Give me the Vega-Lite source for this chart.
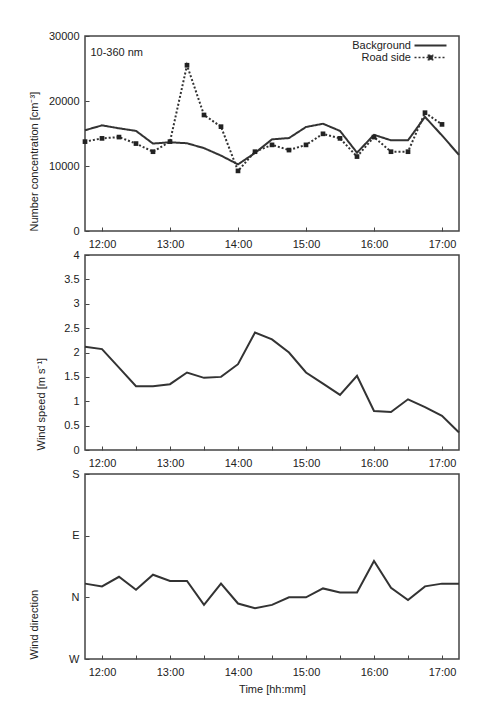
{
  "$schema": "https://vega.github.io/schema/vega-lite/v6.json",
  "background": "white",
  "padding": {"left": 27, "top": 29, "right": 23, "bottom": 12},
  "datasets": {
    "conc": [
      {"hour": 11.75, "series": "Background", "value": 15500},
      {"hour": 12.0, "series": "Background", "value": 16250},
      {"hour": 12.25, "series": "Background", "value": 15800},
      {"hour": 12.5, "series": "Background", "value": 15400},
      {"hour": 12.75, "series": "Background", "value": 13450},
      {"hour": 13.0, "series": "Background", "value": 13650},
      {"hour": 13.25, "series": "Background", "value": 13500},
      {"hour": 13.5, "series": "Background", "value": 12750},
      {"hour": 13.75, "series": "Background", "value": 11600},
      {"hour": 14.0, "series": "Background", "value": 10250},
      {"hour": 14.25, "series": "Background", "value": 12000},
      {"hour": 14.5, "series": "Background", "value": 14100},
      {"hour": 14.75, "series": "Background", "value": 14300},
      {"hour": 15.0, "series": "Background", "value": 16000},
      {"hour": 15.25, "series": "Background", "value": 16500},
      {"hour": 15.5, "series": "Background", "value": 15400},
      {"hour": 15.75, "series": "Background", "value": 12050},
      {"hour": 16.0, "series": "Background", "value": 14800},
      {"hour": 16.25, "series": "Background", "value": 13950},
      {"hour": 16.5, "series": "Background", "value": 13950},
      {"hour": 16.75, "series": "Background", "value": 17550},
      {"hour": 17.0, "series": "Background", "value": 14700},
      {"hour": 17.25, "series": "Background", "value": 11700},
      {"hour": 11.75, "series": "Road side", "value": 13750},
      {"hour": 12.0, "series": "Road side", "value": 14250},
      {"hour": 12.25, "series": "Road side", "value": 14450},
      {"hour": 12.5, "series": "Road side", "value": 13450},
      {"hour": 12.75, "series": "Road side", "value": 12200},
      {"hour": 13.0, "series": "Road side", "value": 13750},
      {"hour": 13.25, "series": "Road side", "value": 25500},
      {"hour": 13.5, "series": "Road side", "value": 17850},
      {"hour": 13.75, "series": "Road side", "value": 16050},
      {"hour": 14.0, "series": "Road side", "value": 9250},
      {"hour": 14.25, "series": "Road side", "value": 12200},
      {"hour": 14.5, "series": "Road side", "value": 13250},
      {"hour": 14.75, "series": "Road side", "value": 12450},
      {"hour": 15.0, "series": "Road side", "value": 13250},
      {"hour": 15.25, "series": "Road side", "value": 14950},
      {"hour": 15.5, "series": "Road side", "value": 14250},
      {"hour": 15.75, "series": "Road side", "value": 11450},
      {"hour": 16.0, "series": "Road side", "value": 14450},
      {"hour": 16.25, "series": "Road side", "value": 12200},
      {"hour": 16.5, "series": "Road side", "value": 12200},
      {"hour": 16.75, "series": "Road side", "value": 18200},
      {"hour": 17.0, "series": "Road side", "value": 16400}
    ],
    "wind": [
      {"hour": 11.75, "speed": 2.12, "direction": 20},
      {"hour": 12.0, "speed": 2.07, "direction": 16},
      {"hour": 12.25, "speed": 1.69, "direction": 30},
      {"hour": 12.5, "speed": 1.31, "direction": 11},
      {"hour": 12.75, "speed": 1.31, "direction": 33},
      {"hour": 13.0, "speed": 1.35, "direction": 24},
      {"hour": 13.25, "speed": 1.59, "direction": 24},
      {"hour": 13.5, "speed": 1.48, "direction": -11},
      {"hour": 13.75, "speed": 1.5, "direction": 20},
      {"hour": 14.0, "speed": 1.76, "direction": -9},
      {"hour": 14.25, "speed": 2.41, "direction": -16},
      {"hour": 14.5, "speed": 2.27, "direction": -11},
      {"hour": 14.75, "speed": 2.0, "direction": 0},
      {"hour": 15.0, "speed": 1.59, "direction": 0},
      {"hour": 15.25, "speed": 1.36, "direction": 13},
      {"hour": 15.5, "speed": 1.13, "direction": 7},
      {"hour": 15.75, "speed": 1.52, "direction": 7},
      {"hour": 16.0, "speed": 0.8, "direction": 53},
      {"hour": 16.25, "speed": 0.78, "direction": 14},
      {"hour": 16.5, "speed": 1.04, "direction": -4},
      {"hour": 16.75, "speed": 0.88, "direction": 16},
      {"hour": 17.0, "speed": 0.7, "direction": 20},
      {"hour": 17.25, "speed": 0.36, "direction": 20}
    ]
  },
  "vconcat": [
    {
      "width": 374,
      "height": 195,
      "data": {"name": "conc"},
      "layer": [
        {
          "mark": {"type": "line", "color": "#333"},
          "encoding": {
            "x": {"field": "hour", "type": "quantitative",
                  "scale": {"domain": [11.75, 17.25], "nice": false, "zero": false},
                  "axis": {"title": null, "values": [12, 12.5, 13, 13.5, 14, 14.5, 15, 15.5, 16, 16.5, 17], "labelExpr": "datum.value % 1 == 0 ? datum.value + ':00' : ''", "labelOverlap": false, "labelFlush": false}},
            "y": {"field": "value", "type": "quantitative",
                  "scale": {"domain": [0, 30000], "nice": false},
                  "axis": {"title": "Number concentration [cm⁻³]", "values": [0, 5000, 10000, 15000, 20000, 25000, 30000], "format": "d", "titlePadding": 9, "labelOverlap": false}},
            "strokeDash": {"field": "series", "type": "nominal",
                  "scale": {"domain": ["Background", "Road side"], "range": [[1, 0], [2, 2]]},
                  "legend": {"title": null, "orient": "none", "legendX": 340, "legendY": 4, "padding": 0, "rowPadding": 0,
                    "symbolType": "M-5.33,0H5.33", "symbolSize": 36, "symbolStrokeColor": "#333", "symbolStrokeWidth": 1.5,
                    "labelAlign": "right", "labelOffset": -25, "labelFontSize": 11, "labelFont": "Liberation Sans", "labelColor": "#222",
                    "encode": {"symbols": {"update": {
                      "shape": {"signal": "datum.value === 'Road side' ? 'M-5.33,0H5.33M-0.75,-0.75H0.75V0.75H-0.75Z' : 'M-5.33,0H5.33'"},
                      "fill": {"signal": "datum.value === 'Road side' ? '#222' : 'transparent'"},
                      "stroke": {"value": "#333"},
                      "strokeOpacity": {"value": 1},
                      "opacity": {"value": 1},
                      "strokeWidth": {"signal": "datum.value === 'Road side' ? 1.3 : 2"}}}}}}
          }
        },
        {
          "transform": [{"filter": "datum.series === 'Road side'"}],
          "mark": {"type": "square", "filled": true, "color": "#222", "size": 22, "opacity": 1},
          "encoding": {
            "x": {"field": "hour", "type": "quantitative"},
            "y": {"field": "value", "type": "quantitative"}
          }
        },
        {
          "data": {"values": [{"label": "10-360 nm"}]},
          "mark": {"type": "text", "align": "left", "baseline": "middle", "fontSize": 11, "font": "Liberation Sans", "color": "#222"},
          "encoding": {
            "x": {"datum": 11.83, "type": "quantitative"},
            "y": {"datum": 27400, "type": "quantitative"},
            "text": {"field": "label"}
          }
        }
      ]
    },
    {
      "width": 374,
      "height": 195,
      "data": {"name": "wind"},
      "mark": {"type": "line", "color": "#333", "strokeWidth": 2},
      "encoding": {
        "x": {"field": "hour", "type": "quantitative",
              "scale": {"domain": [11.75, 17.25], "nice": false, "zero": false},
              "axis": {"title": null, "values": [12, 12.5, 13, 13.5, 14, 14.5, 15, 15.5, 16, 16.5, 17], "labelExpr": "datum.value % 1 == 0 ? datum.value + ':00' : ''", "labelOverlap": false, "labelFlush": false}},
        "y": {"field": "speed", "type": "quantitative",
              "scale": {"domain": [0, 4], "nice": false},
              "axis": {"title": "Wind speed [m s⁻¹]", "values": [0, 0.5, 1, 1.5, 2, 2.5, 3, 3.5, 4], "format": "~g", "titlePadding": 17, "labelOverlap": false}}
      }
    },
    {
      "width": 374,
      "height": 185,
      "data": {"name": "wind"},
      "mark": {"type": "line", "color": "#333", "strokeWidth": 2},
      "encoding": {
        "x": {"field": "hour", "type": "quantitative",
              "scale": {"domain": [11.75, 17.25], "nice": false, "zero": false},
              "axis": {"title": "Time [hh:mm]", "values": [12, 12.5, 13, 13.5, 14, 14.5, 15, 15.5, 16, 16.5, 17], "labelExpr": "datum.value % 1 == 0 ? datum.value + ':00' : ''", "labelOverlap": false, "labelFlush": false, "titlePadding": 6}},
        "y": {"field": "direction", "type": "quantitative",
              "scale": {"domain": [-90, 180], "nice": false},
              "axis": {"title": "Wind direction", "values": [-90, 0, 90, 180], "labelExpr": "datum.value == -90 ? 'W' : datum.value == 0 ? 'N' : datum.value == 90 ? 'E' : 'S'", "titlePadding": 29, "labelOverlap": false}}
      }
    }
  ],
  "spacing": 24,
  "bounds": "flush",
  "config": {
    "font": "Liberation Sans",
    "view": {"stroke": "#444", "strokeWidth": 1.5},
    "axis": {
      "labelFont": "Liberation Sans", "labelFontSize": 11, "labelColor": "#222",
      "titleFont": "Liberation Sans", "titleFontSize": 11, "titleFontWeight": "normal", "titleColor": "#222",
      "tickColor": "#444", "tickSize": 4, "tickWidth": 1, "offset": -4, "domain": false, "grid": false,
      "labelPadding": 6
    },
    "axisY": {"titleAnchor": "start"},
    "axisX": {"labelPadding": 7}
  }
}
